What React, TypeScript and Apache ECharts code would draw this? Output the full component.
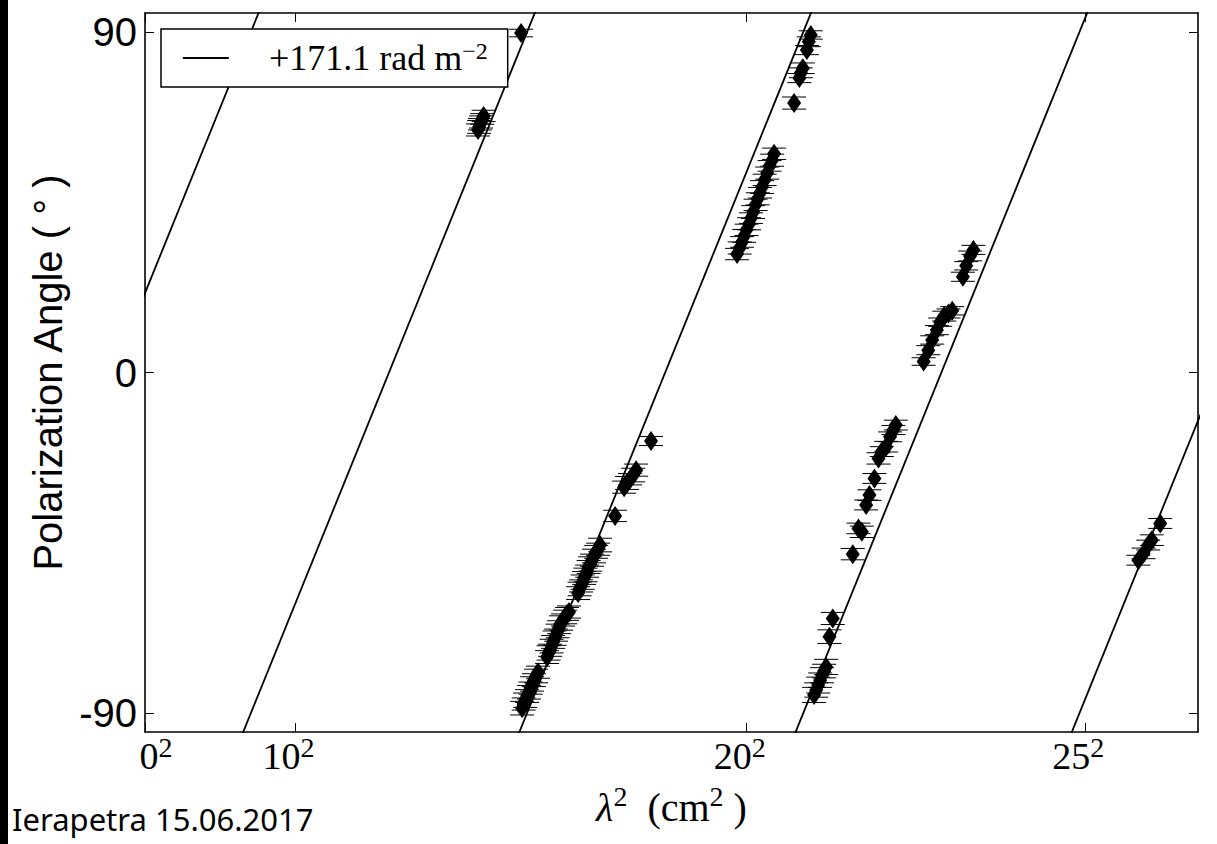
import React, { useEffect, useRef } from "react";
import * as echarts from "echarts";

// ---- data ----
const X_MIN = 0;
const X_MAX = 700;
const Y_MIN = -95;
const Y_MAX = 95;
const X_TICKS = [0, 100, 400, 625];
const X_TICK_BASES = ["0", "10", "20", "25"];
const Y_TICKS = [-90, 0, 90];
const Y_TICK_LABELS = ["-90", "0", "90"];

const RM = 171.1; // rad m^-2
const CHI0 = 21.0; // deg, intercept at lambda^2 = 0
const WRAPS = [0, 1, 2, 3, 4]; // 180 deg ambiguity turns drawn
const LEGEND_NAME = "+171.1 rad m⁻²";

// lambda^2 (cm^2)
const LAMBDA2 = [
  250.0,
  225.1, 224.1, 223.4, 222.7, 222.1, 221.4,
  250.7, 251.7, 252.7, 254.0, 255.3, 256.3, 257.3, 258.6, 260.0, 261.3,
  267.3, 268.3, 269.3, 270.3, 271.3, 272.3, 273.3, 274.3, 275.3, 276.6, 277.9, 279.3, 280.6, 281.9,
  287.9, 288.9, 289.9, 290.9, 291.9, 292.9, 293.9, 294.9, 295.9, 297.2, 298.5, 299.9, 301.2, 302.5,
  312.5,
  318.5, 320.5, 322.5, 324.5, 326.5,
  336.4,
  393.6, 395.3, 396.9, 398.3, 399.9, 401.6, 402.9, 404.3, 405.9, 407.3, 408.9, 410.2, 411.9, 413.6, 415.2, 416.9, 418.2,
  431.5, 435.0, 436.0, 437.3, 440.0, 441.3, 442.6,
  444.8, 446.2, 447.5, 448.8, 450.1, 451.5, 452.8, 455.0, 457.2,
  470.5, 474.3, 476.5, 479.4, 481.6, 484.9, 487.6, 489.8, 492.7, 495.3, 497.5, 499.1,
  517.6, 520.7, 523.3, 526.4, 528.6, 531.3, 534.1, 536.6, 543.7, 545.9, 548.5, 550.7,
  660.4, 663.8, 666.9, 669.3, 674.9,
];
// polarization angle (deg)
const ANGLE = [
  89.7,
  67.8, 67.0, 66.2, 65.6, 64.9, 64.1,
  -88.7, -87.6, -86.6, -85.5, -84.5, -83.4, -82.3, -81.3, -80.2, -79.2,
  -75.2, -74.1, -73.4, -72.3, -71.2, -70.2, -69.4, -68.3, -67.3, -66.2, -65.4, -64.6, -63.8, -63.3,
  -58.3, -57.2, -56.4, -55.4, -54.3, -53.5, -52.5, -51.4, -50.6, -49.6, -48.5, -47.4, -46.7, -45.6,
  -37.9,
  -30.3, -29.2, -28.2, -27.1, -25.8,
  -18.1,
  31.3, 32.9, 34.5, 36.1, 37.7, 39.3, 40.8, 42.4, 44.3, 45.9, 47.5, 49.0, 50.9, 52.7, 54.6, 56.1, 57.8,
  71.2, 77.8, 79.2, 80.4, 85.2, 87.4, 89.2,
  -85.2, -83.9, -82.6, -81.3, -80.0, -78.9, -77.8, -69.8, -65.0,
  -48.0, -41.2, -42.1, -35.0, -32.4, -28.0, -22.7, -20.9, -19.6, -17.0, -15.2, -13.9,
  2.9, 5.9, 8.6, 11.2, 13.3, 14.9, 15.6, 16.3, 25.3, 28.2, 30.8, 32.4,
  -49.6, -47.8, -45.6, -44.3, -39.9,
];
// angle error (deg)
const ERR = [
  1.0,
  1.5, 1.4, 1.6, 1.5, 1.7, 1.6,
  1.8, 1.6, 1.9, 1.7, 1.8, 1.6, 1.9, 1.7, 1.8, 1.6,
  1.7, 1.9, 1.6, 1.8, 1.7, 1.9, 1.6, 1.8, 1.7, 1.9, 1.6, 1.8, 1.7, 1.6,
  1.7, 1.8, 1.6, 1.9, 1.7, 1.8, 1.6, 1.7, 1.9, 1.6, 1.8, 1.7, 1.6, 1.8,
  1.5,
  1.6, 1.7, 1.5, 1.8, 1.6,
  1.2,
  1.5, 1.6, 1.4, 1.7, 1.5, 1.6, 1.4, 1.7, 1.5, 1.6, 1.4, 1.7, 1.5, 1.6, 1.4, 1.6, 1.5,
  1.6, 1.2, 1.3, 1.4, 1.2, 1.3, 1.1,
  2.0, 1.9, 2.1, 1.9, 2.0, 1.8, 2.0, 1.8, 1.6,
  1.5, 1.4, 1.5, 1.3, 1.4, 1.3, 1.5, 1.3, 1.4, 1.3, 1.2, 1.3,
  1.0, 1.2, 1.1, 1.2, 1.1, 1.3, 1.2, 1.1, 1.2, 1.1, 1.3, 1.2,
  1.3, 1.4, 1.3, 1.4, 1.3,
];

const SERIF = "'Liberation Serif', 'DejaVu Serif', serif";
const SANS = "'Liberation Sans', Arial, sans-serif";

export default function App() {
  const ref = useRef<HTMLDivElement>(null);

  useEffect(() => {
    if (!ref.current) return;
    const chart = echarts.init(ref.current, undefined, { renderer: "svg" });

    const points = LAMBDA2.map((x, i) => [x, ANGLE[i], ERR[i]]);
    const slopeDeg = (RM * 1e-4 * 180) / Math.PI; // deg per cm^2
    const fitSeries = WRAPS.map((k) => {
      const xa = (-100 - CHI0 + 180 * k) / slopeDeg;
      const xb = (100 - CHI0 + 180 * k) / slopeDeg;
      return {
        type: "line",
        name: LEGEND_NAME,
        data: [
          [xa, -100],
          [xb, 100],
        ],
        symbol: "none",
        clip: true,
        lineStyle: { color: "#000", width: 1.8 },
        itemStyle: { color: "#000" },
        z: 2,
      };
    });

    const axisLineStyle = { color: "#000", width: 1.6 };
    const tickStyle = { color: "#000", width: 1 };

    const option: any = {
      animation: false,
      backgroundColor: "#fff",
      textStyle: { fontFamily: SANS },
      grid: {
        left: 145,
        top: 13,
        right: 19,
        bottom: 112,
        containLabel: false,
        outerBoundsMode: "none",
      },
      legend: {
        data: [{ name: LEGEND_NAME }],
        left: 161,
        top: 29,
        orient: "vertical",
        padding: [10, 20, 11, 21],
        itemWidth: 46,
        itemHeight: 36,
        backgroundColor: "#fff",
        borderColor: "#000",
        borderWidth: 1.5,
        borderRadius: 0,
        selectedMode: false,
        itemStyle: { color: "rgba(0,0,0,0)", borderWidth: 0, opacity: 0 },
        lineStyle: { color: "#000", width: 1.8 },
        formatter: () => "{a|+171.1 rad m}{b|−2}",
        textStyle: {
          color: "#000",
          fontFamily: SERIF,
          rich: {
            a: { fontFamily: SERIF, fontSize: 36, color: "#000", padding: [0, 0, 0, 35], lineHeight: 38 },
            b: { fontFamily: SERIF, fontSize: 24, color: "#000", lineHeight: 20, verticalAlign: "top" },
          },
        },
      },
      xAxis: [
        {
          type: "value",
          position: "bottom",
          min: X_MIN,
          max: X_MAX,
          name: "{l|λ}{s|2}{t|  (cm}{s|2}{t| )}",
          nameLocation: "middle",
          nameGap: 50,
          nameTextStyle: {
            rich: {
              l: { fontFamily: SERIF, fontSize: 40, fontStyle: "italic", color: "#000", lineHeight: 50 },
              s: { fontFamily: SERIF, fontSize: 28, color: "#000", lineHeight: 30, verticalAlign: "top" },
              t: { fontFamily: SERIF, fontSize: 40, color: "#000", lineHeight: 50 },
            },
          },
          axisLine: { show: true, onZero: false, lineStyle: axisLineStyle },
          axisTick: { show: true, inside: true, length: 9, customValues: X_TICKS, lineStyle: tickStyle },
          splitLine: { show: false },
          axisLabel: {
            show: true,
            customValues: X_TICKS,
            margin: 1,
            formatter: (v: number) => {
              const i = X_TICKS.indexOf(v);
              const base = i >= 0 ? X_TICK_BASES[i] : String(v);
              return i === 0 ? `{z|${base}}{s|2}` : `{d|${base}}{r|2}`;
            },
            rich: {
              z: { fontFamily: SERIF, fontSize: 38, color: "#000", lineHeight: 46, padding: [0, 0, 0, 22] },
              d: { fontFamily: SERIF, fontSize: 38, color: "#000", lineHeight: 46 },
              s: { fontFamily: SERIF, fontSize: 28, color: "#000", lineHeight: 28, verticalAlign: "top" },
              r: { fontFamily: SERIF, fontSize: 28, color: "#000", lineHeight: 28, verticalAlign: "top", padding: [0, 14, 0, 0] },
            },
          },
        },
        {
          type: "value",
          position: "top",
          min: X_MIN,
          max: X_MAX,
          axisLine: { show: true, onZero: false, lineStyle: axisLineStyle },
          axisTick: { show: true, inside: true, length: 9, customValues: X_TICKS, lineStyle: tickStyle },
          axisLabel: { show: false },
          splitLine: { show: false },
        },
      ],
      yAxis: [
        {
          type: "value",
          position: "left",
          min: Y_MIN,
          max: Y_MAX,
          name: "Polarization Angle ( ° )",
          nameLocation: "middle",
          nameRotate: 90,
          nameGap: 76,
          nameTextStyle: { fontFamily: SANS, fontSize: 40, color: "#000" },
          axisLine: { show: true, onZero: false, lineStyle: axisLineStyle },
          axisTick: { show: true, inside: true, length: 9, customValues: Y_TICKS, lineStyle: tickStyle },
          splitLine: { show: false },
          axisLabel: {
            show: true,
            customValues: Y_TICKS,
            margin: 8,
            fontFamily: SANS,
            fontSize: 40,
            color: "#000",
            formatter: (v: number) => {
              const i = Y_TICKS.indexOf(v);
              return i >= 0 ? Y_TICK_LABELS[i] : String(v);
            },
          },
        },
        {
          type: "value",
          position: "right",
          min: Y_MIN,
          max: Y_MAX,
          axisLine: { show: true, onZero: false, lineStyle: axisLineStyle },
          axisTick: { show: true, inside: true, length: 9, customValues: Y_TICKS, lineStyle: tickStyle },
          axisLabel: { show: false },
          splitLine: { show: false },
        },
      ],
      graphic: [
        {
          type: "rect",
          left: 0,
          top: 0,
          shape: { width: 8, height: 844 },
          style: { fill: "#000" },
          z: 100,
        },
        {
          type: "text",
          left: 12,
          top: 803,
          style: {
            text: "Ierapetra 15.06.2017",
            fontFamily: "'Comic Sans MS', 'Noto Sans', sans-serif",
            fontSize: 31,
            fill: "#000",
          },
          z: 100,
        },
      ],
      series: [
        ...fitSeries,
        {
          type: "custom",
          name: "errors",
          data: points,
          encode: { x: 0, y: 1 },
          z: 3,
          renderItem: (params: any, api: any) => {
            const x = api.value(0);
            const y = api.value(1);
            const e = api.value(2);
            const p1 = api.coord([x, y + e]);
            const p2 = api.coord([x, y - e]);
            const hw = 12;
            const st = { stroke: "#000", lineWidth: 1 };
            return {
              type: "group",
              children: [
                { type: "line", shape: { x1: p1[0], y1: p1[1], x2: p2[0], y2: p2[1] }, style: st },
                { type: "line", shape: { x1: p1[0] - hw, y1: p1[1], x2: p1[0] + hw, y2: p1[1] }, style: st },
                { type: "line", shape: { x1: p2[0] - hw, y1: p2[1], x2: p2[0] + hw, y2: p2[1] }, style: st },
              ],
            };
          },
        },
        {
          type: "scatter",
          name: "points",
          data: points.map((p) => [p[0], p[1]]),
          symbol: "diamond",
          symbolSize: [14, 20],
          itemStyle: { color: "#000", opacity: 1 },
          z: 4,
        },
      ],
    };

    chart.setOption(option);
    return () => {
      chart.dispose();
    };
  }, []);

  return (
    <div
      ref={ref}
      style={{ position: "absolute", left: 0, top: 0, width: 1217, height: 844 }}
    />
  );
}
